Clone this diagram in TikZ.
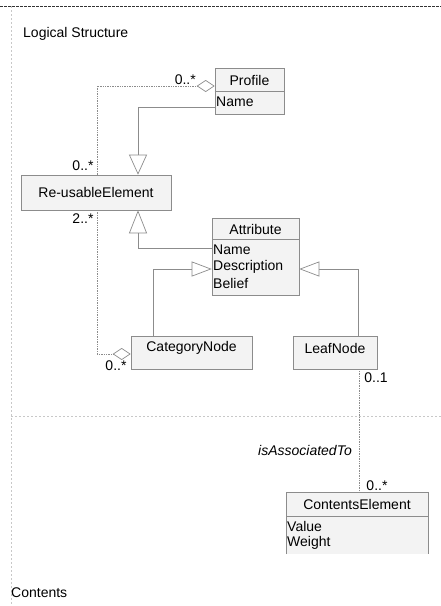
\documentclass[tikz,border=0pt]{standalone}
\usepackage{fontspec}
\setmainfont{Liberation Sans}
\usetikzlibrary{arrows.meta}
\definecolor{lnc}{HTML}{8C8C8C}
\definecolor{boxfill}{HTML}{F3F3F3}
\definecolor{framec}{HTML}{C8C8C8}
\begin{document}
\begin{tikzpicture}[x=1pt,y=-1pt,
  every node/.style={font=\fontsize{14}{16}\selectfont, inner sep=0pt},
  cls/.style={draw=lnc, fill=boxfill, line width=0.6pt},
  txt/.style={anchor=center},
  attr/.style={anchor=west},
  mult/.style={font=\fontsize{14}{16}\selectfont},
  assoc/.style={draw=lnc, line width=0.7pt, densely dotted},
  gen/.style={draw=lnc, line width=0.7pt, -{Triangle[open, length=20pt, width=18pt, fill=white]}},
  agg/.style={draw=lnc, line width=0.7pt, densely dotted, {Diamond[open, length=18pt, width=12pt, fill=white]}-}
]
\useasboundingbox (0,0) rectangle (441,606);
% frames
\draw[black!80, line width=0.7pt, dash pattern=on 2.5pt off 1.5pt] (0,6) -- (441,6);
\draw[framec, line width=0.6pt, dash pattern=on 2pt off 2pt] (11,6) -- (11,606);
\draw[framec, line width=0.6pt, dash pattern=on 2pt off 2pt] (11,416) -- (441,416);
\node[attr] (lslabel) at (23,34) {Logical Structure};
\node[attr] (ctlabel) at (11,593) {Contents};

% Profile
\node[cls, minimum width=69pt, minimum height=46pt] (profile) at (249.5,91) {};
\draw[lnc, line width=0.6pt] (profile.west) -- (profile.east);
\node[txt] (profilet) at (249.5,80.5) {Profile};
\node[attr] (profilea) at (216,102) {Name};

% Re-usableElement
\node[cls, minimum width=150pt, minimum height=35pt] (reuse) at (96,192.5) {};
\node[txt] (reuset) at (96,192) {Re-usableElement};

% Attribute
\node[cls, minimum width=87pt, minimum height=77pt] (attrib) at (255.5,256.5) {};
\draw[lnc, line width=0.6pt] (212,239) -- (299,239);
\node[txt] (attribt) at (255.5,229.5) {Attribute};
\node[attr] (attrib1) at (213,250) {Name};
\node[attr] (attrib2) at (213,266.5) {Description};
\node[attr] (attrib3) at (213,283) {Belief};

% CategoryNode
\node[cls, minimum width=121pt, minimum height=33pt] (catnode) at (191.5,352.5) {};
\node[txt] (catnodet) at (191.5,348) {CategoryNode};

% LeafNode
\node[cls, minimum width=84pt, minimum height=33pt] (leaf) at (335,352.5) {};
\node[txt] (leaft) at (335,348) {LeafNode};

% ContentsElement (open bottom)
\node[fill=boxfill, draw=none, minimum width=142pt, minimum height=62pt] (contents) at (357,523) {};
\draw[lnc, line width=0.6pt] (contents.south west) -- (contents.north west) -- (contents.north east) -- (contents.south east);
\draw[lnc, line width=0.6pt] (286,516) -- (428,516);
\node[txt] (contentst) at (357,504.5) {ContentsElement};
\node[attr] (contents1) at (287,526) {Value};
\node[attr] (contents2) at (287,543) {Weight};

% Aggregation Profile -> Re-usableElement
\draw[agg] ([yshift=5pt]profile.west) -| ([xshift=1pt]reuse.north);
\node[mult, anchor=east] (m1) at (196,79.5) {0..*};
\node[mult] (m2) at (83,166) {0..*};
% Aggregation CategoryNode -> Re-usableElement
\draw[agg] ([yshift=-1.5pt]catnode.west) -| ([xshift=1pt]reuse.south);
\node[mult] (m3) at (83,219) {2..*};
\node[mult] (m4) at (116,366) {0..*};

% Generalizations
\draw[gen] ([yshift=-16pt]profile.west) -| ([xshift=42pt]reuse.north);
\draw[gen, -{Triangle[open, length=23pt, width=18pt, fill=white]}] ([yshift=8.5pt]attrib.west) -| ([xshift=42pt]reuse.south);
\draw[gen, -{Triangle[open, length=20pt, width=15pt, fill=white]}] ([xshift=-38.5pt]catnode.north) |- ([yshift=-12.5pt]attrib.west);
\draw[gen, -{Triangle[open, length=20pt, width=15pt, fill=white]}] ([xshift=23pt]leaf.north) |- ([yshift=-12.5pt]attrib.east);

% Association LeafNode -> ContentsElement
\draw[assoc] ([xshift=24pt]leaf.south) -- ([xshift=2pt]contents.north);
\node[mult] (m5) at (376,377.5) {0..1};
\node[mult] (m6) at (377,485.5) {0..*};
\node[txt, font=\fontsize{14}{16}\selectfont\itshape] (assocl) at (305,450) {isAssociatedTo};
\end{tikzpicture}
\end{document}
